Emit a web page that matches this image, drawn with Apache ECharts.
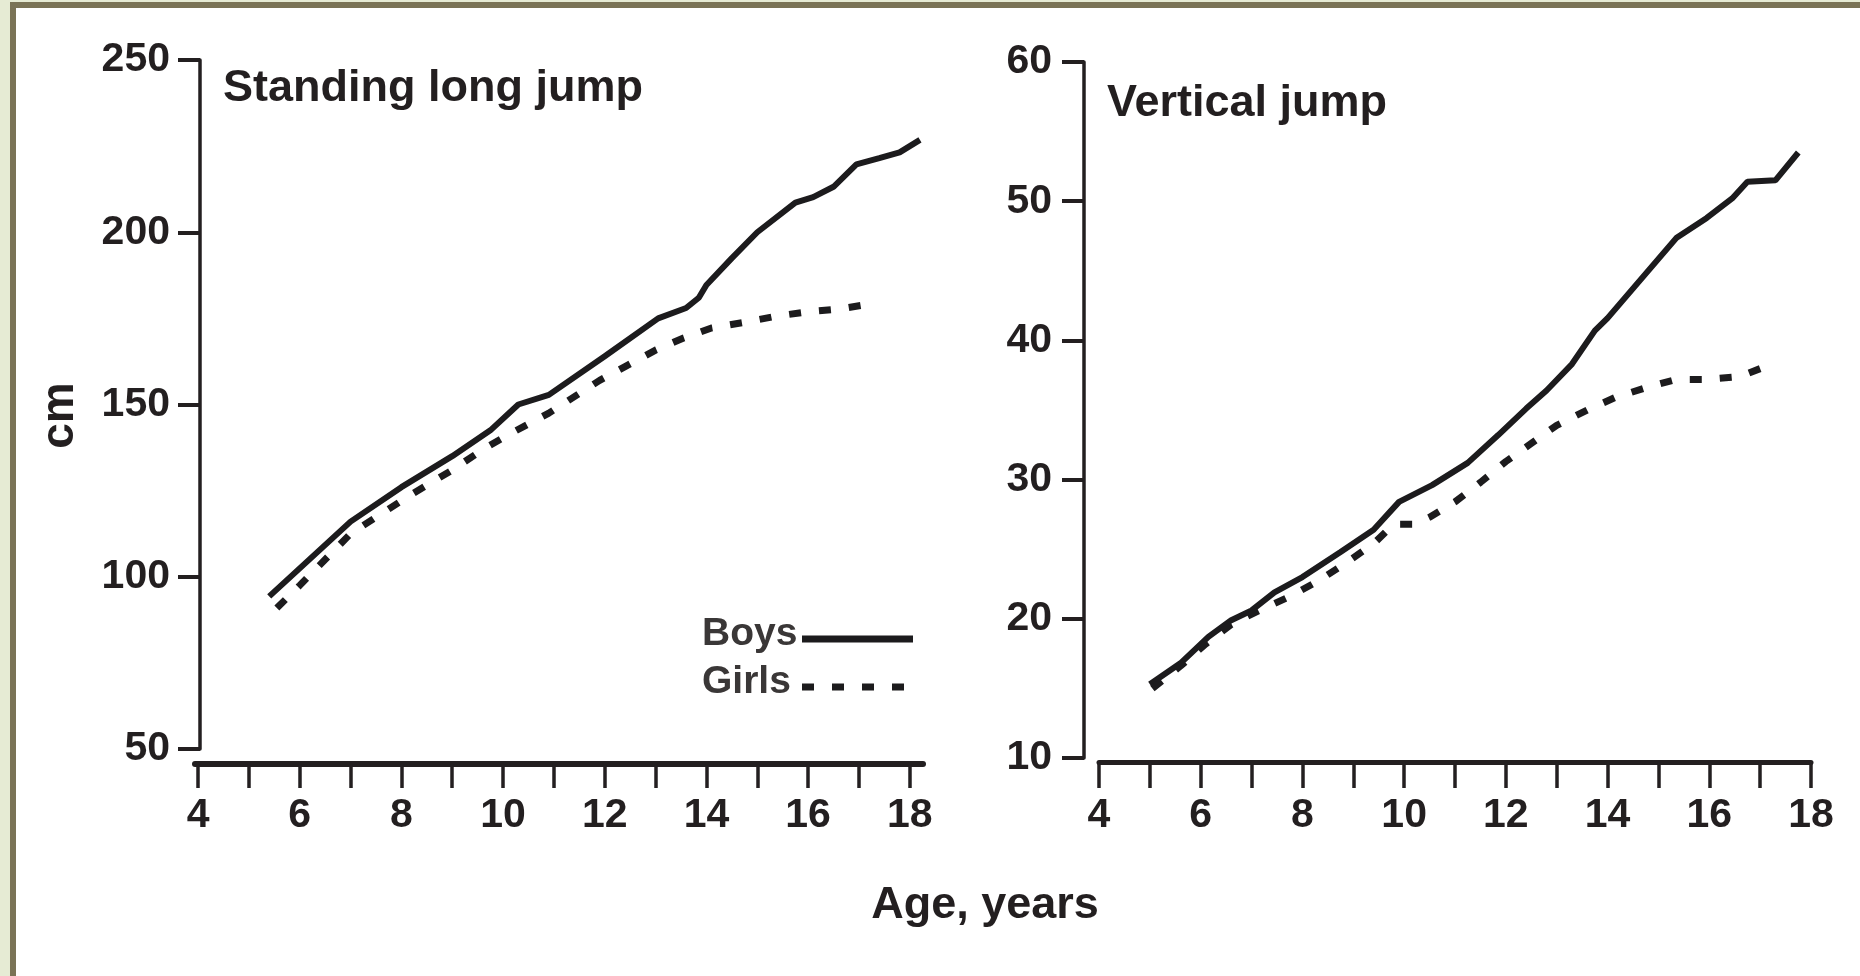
<!DOCTYPE html>
<html>
<head>
<meta charset="utf-8">
<title>Standing long jump and vertical jump by age</title>
<script src="https://cdn.jsdelivr.net/npm/echarts@6/dist/echarts.min.js"></script>
<style>
  html, body { margin: 0; padding: 0; background: #e6ebd4; overflow: hidden; }
  #frame {
    position: absolute; left: 10px; top: 2px; right: 0; bottom: 0;
    background: #fff;
    border-top: 6px solid #7a7356;
    border-left: 6px solid #7a7356;
  }
  #chart { position: absolute; left: 0; top: 0; width: 1860px; height: 976px; }
</style>
</head>
<body>
<div id="frame"></div>
<div id="chart"></div>
<script>
// ages on the x axis
const ageTicks = [4, 5, 6, 7, 8, 9, 10, 11, 12, 13, 14, 15, 16, 17, 18];
const ageLabels = [4, 6, 8, 10, 12, 14, 16, 18];

// standing long jump, cm
const longBoysAge = [5.4, 7.0, 8.0, 9.0, 9.75, 10.3, 10.9, 12.0, 13.05, 13.6, 13.85, 14.0, 14.5, 15.0, 15.75, 16.1, 16.5, 16.95, 17.4, 17.8, 18.2];
const longBoys = [94.3, 116, 126, 135, 142.5, 150, 152.8, 164, 175, 178, 181, 184.7, 192.5, 200, 208.6, 210.2, 213.2, 219.7, 221.5, 223.2, 226.8];
const longGirlsAge = [5.55, 6.0, 7.0, 8.1, 9.0, 9.65, 10.2, 10.9, 11.9, 12.4, 13.0, 13.55, 14.1, 14.8, 15.4, 16.0, 16.6, 17.35];
const longGirls = [90.9, 97.5, 112.5, 123, 131, 137.4, 142, 147.5, 157, 161, 165.8, 169.3, 172.2, 174, 175.7, 176.9, 177.7, 179.5];

// vertical jump, cm
const vertBoysAge = [5.0, 5.6, 6.15, 6.6, 7.0, 7.45, 8.0, 8.75, 9.4, 9.9, 10.55, 11.25, 11.85, 12.4, 12.8, 13.3, 13.75, 14.0, 15.35, 15.95, 16.45, 16.75, 17.3, 17.75];
const vertBoys = [15.3, 16.8, 18.7, 19.9, 20.6, 21.9, 23.0, 24.8, 26.4, 28.4, 29.6, 31.2, 33.2, 35.1, 36.4, 38.3, 40.7, 41.6, 47.35, 48.8, 50.2, 51.4, 51.5, 53.5];
const vertGirlsAge = [5.05, 5.6, 6.1, 6.6, 7.15, 7.75, 8.3, 8.85, 9.4, 9.8, 10.2, 10.5, 11.0, 11.5, 12.0, 12.5, 13.0, 13.6, 14.15, 14.75, 15.35, 15.95, 16.6, 17.3];
const vertGirls = [15.0, 16.6, 18.2, 19.6, 20.6, 21.6, 22.7, 24.0, 25.4, 26.8, 26.8, 27.3, 28.4, 29.8, 31.3, 32.6, 33.9, 35.0, 35.9, 36.6, 37.2, 37.2, 37.4, 38.4];

const ink = "#231f20";
const lineInk = "#1c1b1d";
const font = "'Liberation Sans', Arial, Helvetica, sans-serif";

const pairs = (xs, ys) => xs.map((x, i) => [x, ys[i]]);

function ageAxis(gridIndex, min, max, offset, width, tickLen, margin) {
  return {
    gridIndex: gridIndex,
    type: "value",
    min: min,
    max: max,
    offset: offset,
    axisLine: { show: true, onZero: false, lineStyle: { color: ink, width: width } },
    axisTick: { show: true, customValues: ageTicks, length: tickLen, lineStyle: { color: ink, width: 3.5 } },
    axisLabel: {
      customValues: ageLabels,
      margin: margin,
      fontSize: 41,
      fontWeight: "bold",
      fontFamily: font,
      color: ink
    },
    splitLine: { show: false }
  };
}

function valueAxis(gridIndex, min, max, interval, offset, margin) {
  return {
    gridIndex: gridIndex,
    type: "value",
    min: min,
    max: max,
    interval: interval,
    offset: offset,
    axisLine: { show: true, lineStyle: { color: ink, width: 3.5 } },
    axisTick: { show: true, length: 22, lineStyle: { color: ink, width: 4 } },
    axisLabel: {
      margin: margin,
      fontSize: 41,
      fontWeight: "bold",
      fontFamily: font,
      color: ink
    },
    splitLine: { show: false }
  };
}

function boysLine(xi, data) {
  return {
    name: "Boys",
    type: "line",
    xAxisIndex: xi,
    yAxisIndex: xi,
    data: data,
    symbol: "none",
    clip: false,
    animation: false,
    lineStyle: { color: lineInk, width: 6 },
    itemStyle: { color: lineInk }
  };
}

function girlsLine(xi, data) {
  return {
    name: "Girls",
    type: "line",
    xAxisIndex: xi,
    yAxisIndex: xi,
    data: data,
    symbol: "none",
    clip: false,
    animation: false,
    lineStyle: { color: lineInk, width: 7, type: [12, 18] },
    itemStyle: { color: lineInk }
  };
}

const chart = echarts.init(document.getElementById("chart"));

const leftY = valueAxis(0, 50, 250, 50, -5, 30);
leftY.name = "cm";
leftY.nameLocation = "middle";
leftY.nameRotate = 90;
leftY.nameGap = 117;
leftY.nameTextStyle = {
  fontSize: 46,
  fontWeight: "bold",
  fontFamily: font,
  color: ink,
  padding: [0, 22, 0, 0]
};

const option = {
  animation: false,
  title: [
    {
      text: "Standing long jump",
      left: 223,
      top: 66,
      padding: 0,
      textStyle: { fontSize: 45, fontWeight: "bold", fontFamily: font, color: ink }
    },
    {
      text: "Vertical jump",
      left: 1107,
      top: 81,
      padding: 0,
      textStyle: { fontSize: 45, fontWeight: "bold", fontFamily: font, color: ink }
    }
  ],
  legend: {
    data: ["Boys", "Girls"],
    orient: "vertical",
    align: "right",
    left: 697,
    top: 610,
    itemWidth: 111,
    itemHeight: 8,
    itemGap: 0,
    selectedMode: false,
    itemStyle: { opacity: 0 },
    lineStyle: { width: 7 },
    formatter: "{n|{name}}",
    textStyle: {
      rich: {
        n: {
          width: 95,
          align: "left",
          lineHeight: 37,
          fontSize: 39,
          fontWeight: "bold",
          fontFamily: font,
          color: "#3a3737",
          padding: [0, 0, 9, 0]
        }
      }
    }
  },
  grid: [
    { left: 195, top: 60, width: 728, height: 689 },
    { left: 1099, top: 62, width: 712, height: 696 }
  ],
  xAxis: [
    ageAxis(0, 3.94, 18.26, 15, 6, 24, 31),
    ageAxis(1, 4, 18, 4, 5, 26, 33)
  ],
  yAxis: [
    leftY,
    valueAxis(1, 10, 60, 10, 15, 32)
  ],
  graphic: [
    {
      type: "text",
      style: {
        text: "Age, years",
        x: 985,
        y: 906,
        align: "center",
        verticalAlign: "middle",
        font: "bold 45px " + font,
        fill: ink
      }
    }
  ],
  series: [
    boysLine(0, pairs(longBoysAge, longBoys)),
    girlsLine(0, pairs(longGirlsAge, longGirls)),
    boysLine(1, pairs(vertBoysAge, vertBoys)),
    girlsLine(1, pairs(vertGirlsAge, vertGirls))
  ]
};

chart.setOption(option);
</script>
</body>
</html>
